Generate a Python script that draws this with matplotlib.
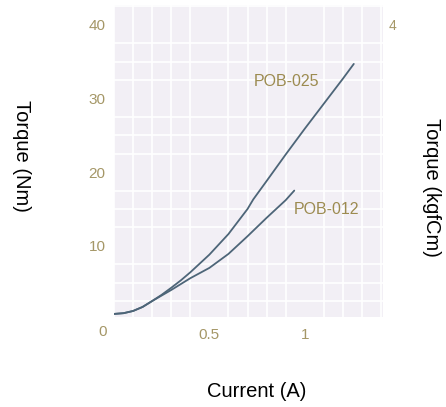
import matplotlib
matplotlib.use("Agg")
import matplotlib.pyplot as plt
import numpy as np

plt.rcParams['font.family'] = ['Liberation Sans', 'DejaVu Sans']

# Data (Current in A, Torque in Nm)
current_025 = [0.0, 0.05, 0.1, 0.15, 0.2, 0.25, 0.3, 0.35, 0.4, 0.5, 0.6, 0.7, 0.73, 0.8, 0.9, 1.0, 1.1, 1.2, 1.257]
torque_025 = [0.75, 0.85, 1.15, 1.7, 2.5, 3.35, 4.3, 5.3, 6.4, 8.8, 11.6, 15.0, 16.3, 18.8, 22.4, 25.9, 29.3, 32.7, 34.7]
current_012 = [0.0, 0.05, 0.1, 0.15, 0.2, 0.25, 0.3, 0.35, 0.4, 0.5, 0.6, 0.7, 0.8, 0.9, 0.945]
torque_012 = [0.75, 0.85, 1.15, 1.7, 2.5, 3.25, 4.0, 4.8, 5.6, 7.0, 8.9, 11.3, 13.8, 16.2, 17.5]

xtick_vals = [0.5, 1]
xtick_labels = ["0.5", "1"]
ytick_vals = [10, 20, 30, 40]
ytick_labels = ["10", "20", "30", "40"]
right_tick_vals = [4]
right_tick_labels = ["4"]

line_color = '#4d6578'
tick_color = '#a59767'
label_color = '#9c8b50'

fig = plt.figure(figsize=(4.46, 4.07), dpi=100)
ax = fig.add_axes([0.2556, 0.2211, 0.6031, 0.7666])
ax.set_facecolor('#f2eff5')
ax.set_xlim(0, 1.41)
ax.set_ylim(0.33, 42.7)

# grid
ax.set_xticks(np.arange(0, 1.45, 0.1), minor=True)
ax.set_yticks(np.arange(2.5, 42.6, 2.5), minor=True)
ax.grid(True, which='minor', color='white', linewidth=1.2)
ax.set_axisbelow(True)
ax.tick_params(which='minor', length=0)

ax.plot(current_025, torque_025, color=line_color, lw=1.3, solid_capstyle='round', solid_joinstyle='round')
ax.plot(current_012, torque_012, color=line_color, lw=1.3, solid_capstyle='round', solid_joinstyle='round')

ax.set_xticks(xtick_vals)
ax.set_xticklabels(xtick_labels)
ax.set_yticks(ytick_vals)
ax.set_yticklabels(ytick_labels)
ax.tick_params(which='major', length=0, colors=tick_color, labelsize=11)
ax.tick_params(axis='x', pad=8)
ax.tick_params(axis='y', pad=6)
for s in ax.spines.values():
    s.set_visible(False)

ax.annotate("0", xy=(0, 0.33), xycoords='data', xytext=(-8, -11), textcoords='offset points',
            ha='center', va='center', color=tick_color, fontsize=11)

ax2 = ax.twinx()
ax2.set_ylim(0.033, 4.27)
ax2.set_yticks(right_tick_vals)
ax2.set_yticklabels(right_tick_labels)
ax2.tick_params(length=0, colors=tick_color, labelsize=10, pad=4)
for s in ax2.spines.values():
    s.set_visible(False)

ax.text(0.906, 32.3, "POB-025", ha='center', va='center', color=label_color, fontsize=11.5)
ax.text(1.115, 14.9, "POB-012", ha='center', va='center', color=label_color, fontsize=11.5)

fig.text(0.0493, 0.6167, "Torque (Nm)", rotation=-90, ha='center', va='center', fontsize=14.5, color='black')
fig.text(0.9664, 0.5405, "Torque (kgfCm)", rotation=-90, ha='center', va='center', fontsize=14.5, color='black')
fig.text(0.576, 0.0393, "Current (A)", ha='center', va='center', fontsize=14.5, color='black')

fig.savefig("out.png", dpi=100, facecolor='white')
